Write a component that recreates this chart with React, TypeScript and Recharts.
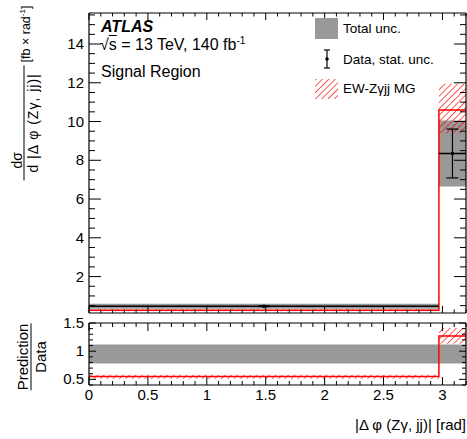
import { ComposedChart, Area, Line, Scatter, ErrorBar, XAxis, YAxis } from 'recharts'

const FONT = '"Liberation Sans", Arial, Helvetica, sans-serif'

// bin edges in |dphi(Zy, jj)| [rad]
const binEdges = [0, 2.97, 3.2]

// upper panel, one value per bin
const dataY = [0.47, 8.35]
const dataStat = [0.02, 1.26]
const totalLo = [0.34, 6.65]
const totalHi = [0.6, 10.05]
const mgY = [0.26, 10.6]
const mgLo = [0.21, 9.4]
const mgHi = [0.31, 11.95]

// ratio panel, one value per bin
const ratioTotLo = [0.78, 0.78]
const ratioTotHi = [1.12, 1.12]
const ratioMg = [0.55, 1.27]
const ratioMgLo = [0.51, 1.13]
const ratioMgHi = [0.58, 1.41]

const xMajorStep = 0.5
const yMajorStep = 2
const rMajorStep = 0.5

const minorTicks = (lo: number, hi: number, step: number) => {
  const out: number[] = []
  for (let v = lo; v <= hi + 1e-9; v += step) out.push(Math.round(v * 1000) / 1000)
  return out
}
const xTicks = minorTicks(0, 3.2, 0.1)
const yTicks = minorTicks(0.5, 15.5, 0.5)
const rTicks = minorTicks(0.4, 1.5, 0.1)

const binOf = (i: number) => Math.min(i, dataY.length - 1)

const topRows = binEdges.map((x, i) => {
  const b = binOf(i)
  return { x, tot: [totalLo[b], totalHi[b]], mg: mgY[b], mgBand: [mgLo[b], mgHi[b]] }
})

const ratioRows = binEdges.map((x, i) => {
  const b = binOf(i)
  return { x, tot: [ratioTotLo[b], ratioTotHi[b]], mg: ratioMg[b], mgBand: [ratioMgLo[b], ratioMgHi[b]] }
})

const points = dataY.map((y, i) => ({
  x: (binEdges[i] + binEdges[i + 1]) / 2,
  y,
  xErr: (binEdges[i + 1] - binEdges[i]) / 2,
  yErr: dataStat[i],
}))

type Side = 'bottom' | 'top' | 'left' | 'right'

// ATLAS style: ticks point into the frame, minor ticks shorter, labels only on majors
function makeTick(side: Side, majorStep: number, majorLen: number, minorLen: number, label: boolean) {
  return (props: any) => {
    const { x, y, payload } = props
    const v: number = payload.value
    const major = Math.abs(v / majorStep - Math.round(v / majorStep)) < 1e-6
    const len = major ? majorLen : minorLen
    const dx = side === 'left' ? len : side === 'right' ? -len : 0
    const dy = side === 'bottom' ? -len : side === 'top' ? len : 0
    return (
      <g>
        <line x1={x} y1={y} x2={x + dx} y2={y + dy} stroke="#000" strokeWidth={1} />
        {label && major && side === 'bottom' && (
          <text x={x} y={y + 15} textAnchor="middle" fontSize={15} fontFamily={FONT} fill="#000">{String(v)}</text>
        )}
        {label && major && side === 'left' && (
          <text x={x - 5} y={y + 5} textAnchor="end" fontSize={15} fontFamily={FONT} fill="#000">{String(v)}</text>
        )}
      </g>
    )
  }
}

const hatch = (id: string) => (
  <pattern id={id} width="4.5" height="4.5" patternUnits="userSpaceOnUse" patternTransform="rotate(45)">
    <line x1="0" y1="0" x2="0" y2="4.5" stroke="#ff0000" strokeWidth="1.3" />
  </pattern>
)

const axisLine = { stroke: '#000', strokeWidth: 1.2 }

export default function App() {
  return (
    <div style={{ position: 'absolute', left: 0, top: 0, width: 467, height: 439, background: '#fff', fontFamily: FONT, color: '#000' }}>
      <div style={{ position: 'absolute', left: 0, top: 0 }}>
        <ComposedChart width={467} height={320} data={topRows} margin={{ top: 12, right: 0, bottom: 6, left: 88 }}>
          <defs>{hatch('hatchTop')}</defs>
          <XAxis dataKey="x" type="number" domain={[0, 3.2]} allowDataOverflow ticks={xTicks} interval={0}
            height={1} tickSize={0} tickMargin={0} axisLine={axisLine} tickLine={false}
            tick={makeTick('bottom', xMajorStep, 7, 3.5, false)} />
          <XAxis xAxisId="top" orientation="top" dataKey="x" type="number" domain={[0, 3.2]} allowDataOverflow ticks={xTicks} interval={0}
            height={1} tickSize={0} tickMargin={0} axisLine={axisLine} tickLine={false}
            tick={makeTick('top', xMajorStep, 7, 3.5, false)} />
          <YAxis type="number" domain={[0.12, 15.6]} allowDataOverflow ticks={yTicks} interval={0}
            width={1} tickSize={0} tickMargin={0} axisLine={axisLine} tickLine={false}
            tick={makeTick('left', yMajorStep, 12, 6, true)} />
          <YAxis yAxisId="right" orientation="right" type="number" domain={[0.12, 15.6]} allowDataOverflow ticks={yTicks} interval={0}
            width={1} tickSize={0} tickMargin={0} axisLine={axisLine} tickLine={false}
            tick={makeTick('right', yMajorStep, 12, 6, false)} />
          <Area dataKey="tot" type="stepAfter" fill="#999999" fillOpacity={1} stroke="none" isAnimationActive={false} />
          <Area dataKey="mgBand" type="stepAfter" fill="url(#hatchTop)" fillOpacity={1} stroke="none" isAnimationActive={false} />
          <Line dataKey="mg" type="stepAfter" stroke="#ff0000" strokeWidth={1.5} dot={false} isAnimationActive={false} />
          <Scatter data={points} dataKey="y" isAnimationActive={false}
            shape={(p: any) => <circle cx={p.cx} cy={p.cy} r={1.8} fill="#000" />}>
            <ErrorBar dataKey="xErr" direction="x" width={0} stroke="#000" strokeWidth={1.5} isAnimationActive={false} />
            <ErrorBar dataKey="yErr" direction="y" width={6} stroke="#000" strokeWidth={1.2} isAnimationActive={false} />
          </Scatter>
        </ComposedChart>
      </div>

      <div style={{ position: 'absolute', left: 0, top: 313 }}>
        <ComposedChart width={467} height={126} data={ratioRows} margin={{ top: 9, right: 0, bottom: 53, left: 88 }}>
          <defs>{hatch('hatchRatio')}</defs>
          <XAxis dataKey="x" type="number" domain={[0, 3.2]} allowDataOverflow ticks={xTicks} interval={0}
            height={1} tickSize={0} tickMargin={0} axisLine={axisLine} tickLine={false}
            tick={makeTick('bottom', xMajorStep, 8, 4, true)} />
          <XAxis xAxisId="top" orientation="top" dataKey="x" type="number" domain={[0, 3.2]} allowDataOverflow ticks={xTicks} interval={0}
            height={1} tickSize={0} tickMargin={0} axisLine={axisLine} tickLine={false}
            tick={makeTick('top', xMajorStep, 8, 4, false)} />
          <YAxis type="number" domain={[0.4, 1.5]} allowDataOverflow ticks={rTicks} interval={0}
            width={1} tickSize={0} tickMargin={0} axisLine={axisLine} tickLine={false}
            tick={makeTick('left', rMajorStep, 7, 4, true)} />
          <YAxis yAxisId="right" orientation="right" type="number" domain={[0.4, 1.5]} allowDataOverflow ticks={rTicks} interval={0}
            width={1} tickSize={0} tickMargin={0} axisLine={axisLine} tickLine={false}
            tick={makeTick('right', rMajorStep, 7, 4, false)} />
          <Area dataKey="tot" type="stepAfter" fill="#999999" fillOpacity={1} stroke="none" isAnimationActive={false} />
          <Area dataKey="mgBand" type="stepAfter" fill="url(#hatchRatio)" fillOpacity={1} stroke="none" isAnimationActive={false} />
          <Line dataKey="mg" type="stepAfter" stroke="#ff0000" strokeWidth={1.5} dot={false} isAnimationActive={false} />
        </ComposedChart>
      </div>

      {/* y axis titles */}
      <div style={{ position: 'absolute', left: 25, top: 93, transform: 'translate(-50%, -50%) rotate(-90deg)', display: 'flex', alignItems: 'center', whiteSpace: 'nowrap' }}>
        <div style={{ display: 'flex', flexDirection: 'column', width: 115 }}>
          <div style={{ fontSize: 14, lineHeight: '12px', paddingLeft: 12 }}>dσ</div>
          <div style={{ borderTop: '1px solid #000', margin: '1px 0' }} />
          <div style={{ fontSize: 14, lineHeight: '14px', letterSpacing: 1, textAlign: 'center' }}>d |Δ φ (Zγ, jj)|</div>
        </div>
        <div style={{ fontSize: 12.5, marginLeft: 3 }}>
          [fb × rad<span style={{ fontSize: 8, position: 'relative', top: -5 }}>-1</span>]
        </div>
      </div>
      <div style={{ position: 'absolute', left: 31, top: 357, transform: 'translate(-50%, -50%) rotate(-90deg)', display: 'flex', flexDirection: 'column', alignItems: 'center', whiteSpace: 'nowrap' }}>
        <div style={{ fontSize: 15, lineHeight: '15px' }}>Prediction</div>
        <div style={{ borderTop: '1px solid #000', width: '100%', margin: '1px 0' }} />
        <div style={{ fontSize: 15, lineHeight: '15px' }}>Data</div>
      </div>

      {/* x axis title */}
      <div style={{ position: 'absolute', right: 1, top: 417, fontSize: 15, lineHeight: '16px', whiteSpace: 'nowrap' }}>
        |Δ φ (Zγ, jj)| [rad]
      </div>

      {/* ATLAS labels */}
      <div style={{ position: 'absolute', left: 101, top: 19, fontSize: 16, lineHeight: '16px', fontWeight: 'bold', fontStyle: 'italic' }}>ATLAS</div>
      <div style={{ position: 'absolute', left: 100, top: 37, fontSize: 16, lineHeight: '16px', whiteSpace: 'nowrap' }}>
        √<span style={{ textDecoration: 'overline' }}>s</span> = 13 TeV, 140 fb<span style={{ fontSize: 10, position: 'relative', top: -6 }}>-1</span>
      </div>
      <div style={{ position: 'absolute', left: 101, top: 64, fontSize: 16, lineHeight: '16px', whiteSpace: 'nowrap' }}>Signal Region</div>

      {/* legend */}
      <svg width={467} height={110} style={{ position: 'absolute', left: 0, top: 0, pointerEvents: 'none' }}>
        <defs>{hatch('hatchLeg')}</defs>
        <rect x={315} y={18} width={23} height={21} fill="#999999" />
        <line x1={327} y1={50} x2={327} y2={68} stroke="#000" strokeWidth={1.2} />
        <line x1={324} y1={50} x2={330} y2={50} stroke="#000" strokeWidth={1.2} />
        <line x1={324} y1={68} x2={330} y2={68} stroke="#000" strokeWidth={1.2} />
        <circle cx={327} cy={59} r={1.8} fill="#000" />
        <rect x={315} y={79} width={23} height={20} fill="url(#hatchLeg)" />
      </svg>
      <div style={{ position: 'absolute', left: 343, top: 22, fontSize: 13.5, lineHeight: '14px', whiteSpace: 'nowrap' }}>Total unc.</div>
      <div style={{ position: 'absolute', left: 343, top: 53, fontSize: 13.5, lineHeight: '14px', whiteSpace: 'nowrap' }}>Data, stat. unc.</div>
      <div style={{ position: 'absolute', left: 343, top: 82, fontSize: 13.5, lineHeight: '14px', whiteSpace: 'nowrap' }}>EW-Zγjj MG</div>
    </div>
  )
}
